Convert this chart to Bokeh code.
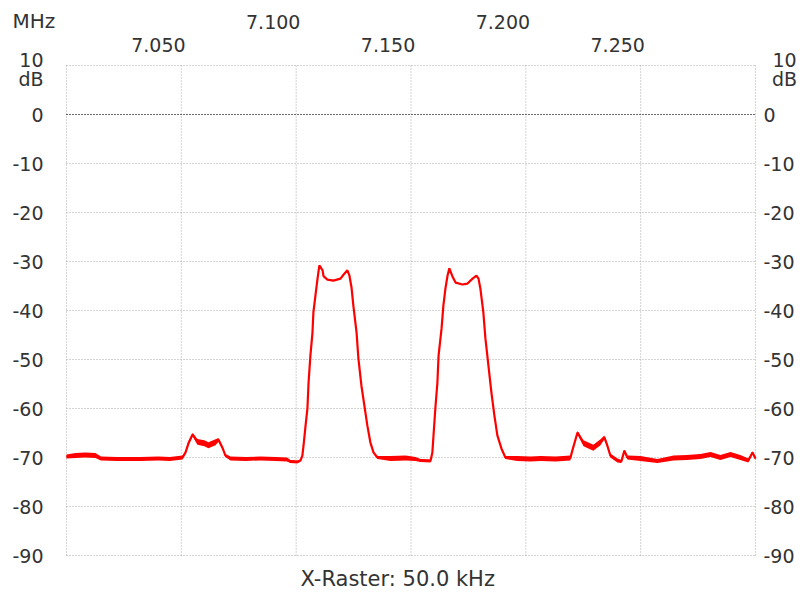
from bokeh.plotting import figure
from bokeh.models import Range1d
from bokeh.core.properties import value
from bokeh.embed import file_html
from bokeh.resources import INLINE

# ---- data ----
freq_mhz = [
    7.0100, 7.0139, 7.0180, 7.0226, 7.0250, 7.0320, 7.0422, 7.0500, 7.0550, 7.0605,
    7.0618, 7.0631, 7.0649, 7.0670, 7.0700, 7.0718, 7.0749, 7.0762, 7.0779, 7.0792, 7.0814,
    7.0880, 7.0945, 7.1010, 7.1060, 7.1075, 7.1105, 7.1119,
    7.1127, 7.1132, 7.1140, 7.1149, 7.1154, 7.1162, 7.1171, 7.1175, 7.1184, 7.1193,
    7.1201, 7.1215, 7.1219, 7.1236, 7.1262, 7.1293, 7.1306, 7.1323, 7.1332, 7.1341,
    7.1349, 7.1363, 7.1371, 7.1384, 7.1397, 7.1410, 7.1423, 7.1437, 7.1454,
    7.1511, 7.1576, 7.1620, 7.1641, 7.1685,
    7.1693, 7.1698, 7.1706, 7.1715, 7.1720, 7.1733, 7.1741, 7.1750, 7.1759, 7.1767,
    7.1780, 7.1794, 7.1824, 7.1846, 7.1868, 7.1885, 7.1894, 7.1902, 7.1915, 7.1924,
    7.1937, 7.1950, 7.1963, 7.1976, 7.1994, 7.2011,
    7.2063, 7.2120, 7.2164, 7.2230, 7.2294,
    7.2303, 7.2325, 7.2351, 7.2394, 7.2425, 7.2442, 7.2455, 7.2468, 7.2499, 7.2516, 7.2529, 7.2542,
    7.2599, 7.2673, 7.2743, 7.2800, 7.2860, 7.2904, 7.2947, 7.2991, 7.3034, 7.3069, 7.3087, 7.3100,
]
level_db = [
    -69.8, -69.6, -69.5, -69.6, -70.2, -70.3, -70.3, -70.2, -70.3, -70.0,
    -69.0, -67.1, -65.3, -66.8, -67.1, -67.5, -66.9, -66.4, -68.0, -69.6, -70.2,
    -70.3, -70.2, -70.3, -70.4, -70.8, -70.9, -70.6,
    -69.6, -67.6, -63.9, -60.0, -54.7, -49.2, -44.5, -40.4, -36.9, -33.5,
    -30.8, -31.8, -33.0, -33.7, -33.9, -33.5, -32.7, -31.8, -32.9, -35.3,
    -39.0, -44.5, -49.8, -55.3, -59.4, -63.5, -66.9, -69.0, -70.0,
    -70.2, -70.1, -70.3, -70.6, -70.7,
    -69.0, -65.5, -60.0, -54.7, -49.2, -43.7, -39.0, -35.5, -32.9, -31.4,
    -33.0, -34.3, -34.7, -34.5, -33.5, -32.9, -33.5, -35.5, -40.4, -45.7,
    -51.2, -56.7, -61.4, -65.5, -68.2, -70.0,
    -70.2, -70.3, -70.2, -70.3, -70.1,
    -68.5, -64.9, -67.1, -68.0, -66.9, -65.9, -67.6, -69.6, -70.6, -70.8, -68.6, -70.0,
    -70.2, -70.7, -70.1, -70.0, -69.8, -69.4, -70.0, -69.4, -70.0, -70.6, -69.0, -70.2,
]
spread_db = [
    0.4, 0.5, 0.5, 0.5, 0.4, 0.4, 0.4, 0.4, 0.4, 0.4,
    0.3, 0.4, 0.3, 0.6, 0.6, 0.6, 0.6, 0.4, 0.3, 0.3, 0.4,
    0.4, 0.4, 0.4, 0.4, 0.3, 0.3, 0.2,
    0.1, 0.1, 0.1, 0.1, 0.1, 0.1, 0.1, 0.1, 0.1, 0.1,
    0.1, 0.1, 0.1, 0.1, 0.1, 0.1, 0.1, 0.1, 0.1, 0.1,
    0.1, 0.1, 0.1, 0.1, 0.1, 0.1, 0.1, 0.2, 0.3,
    0.5, 0.5, 0.4, 0.3, 0.3,
    0.1, 0.1, 0.1, 0.1, 0.1, 0.1, 0.1, 0.1, 0.1, 0.1,
    0.1, 0.1, 0.1, 0.1, 0.1, 0.1, 0.1, 0.1, 0.1, 0.1,
    0.1, 0.1, 0.1, 0.1, 0.2, 0.3,
    0.5, 0.5, 0.5, 0.5, 0.5,
    0.3, 0.3, 0.6, 0.6, 0.6, 0.4, 0.4, 0.4, 0.4, 0.3, 0.2, 0.4,
    0.5, 0.4, 0.5, 0.5, 0.5, 0.5, 0.5, 0.5, 0.5, 0.4, 0.3, 0.3,
]

freq_start, freq_end = 7.010, 7.310          # span of the chart area (MHz)
db_top, db_bottom = 10, -90                   # span of the chart area (dB)
grid_freqs = [7.010, 7.060, 7.110, 7.160, 7.210, 7.260, 7.310]
upper_tick_freqs = [7.100, 7.200]
upper_tick_labels = ["7.100", "7.200"]
lower_tick_freqs = [7.050, 7.150, 7.250]
lower_tick_labels = ["7.050", "7.150", "7.250"]
db_ticks = [10, 0, -10, -20, -30, -40, -50, -60, -70, -80, -90]
db_labels = ["10\ndB", "0", "-10", "-20", "-30", "-40", "-50", "-60", "-70", "-80", "-90"]
unit_label = "MHz"
raster_label = "X-Raster: 50.0 kHz"

FONT = value("DejaVu Sans")
FSIZE = value("19px")
TCOL = "#333333"
GRID = "#a8a8a8"

# canvas geometry: chart area occupies pixels 66..755 (x) and 65..555 (y)
W, H = 802, 596
AX0, AX1, AY0, AY1 = 66, 755, 65, 555
mhz_per_px = (freq_end - freq_start) / (AX1 - AX0)
db_per_px = (db_top - db_bottom) / (AY1 - AY0)
x_range = Range1d(freq_start - AX0 * mhz_per_px, freq_end + (W - AX1) * mhz_per_px)
y_range = Range1d(db_bottom - (H - AY1) * db_per_px, db_top + AY0 * db_per_px)

p = figure(width=W, height=H, x_range=x_range, y_range=y_range,
           x_axis_location=None, y_axis_location=None,
           output_backend="svg", toolbar_location=None, min_border=0,
           background_fill_color="white", border_fill_color="white")
p.outline_line_color = None
p.xgrid.visible = False
p.ygrid.visible = False

# dotted raster
n_v = len(grid_freqs)
p.segment(x0=grid_freqs, y0=[db_bottom] * n_v, x1=grid_freqs, y1=[db_top] * n_v,
          line_color=GRID, line_dash="1 2", line_width=1)
n_h = len(db_ticks)
p.segment(x0=[freq_start] * n_h, y0=db_ticks, x1=[freq_end] * n_h, y1=db_ticks,
          line_color=GRID, line_dash="1 2", line_width=1)
p.segment(x0=[freq_start], y0=[0], x1=[freq_end], y1=[0],
          line_color="#000000", line_dash="1 2", line_width=1)

# spectrum trace
lo = [l - s for l, s in zip(level_db, spread_db)]
hi = [l + s for l, s in zip(level_db, spread_db)]
p.varea(x=freq_mhz, y1=lo, y2=hi, fill_color="#ff0000")
p.line(freq_mhz, level_db, line_color="#ff0000", line_width=2.2)

# dB tick labels, both sides (the two-line top label sits slightly lower)
label_dy = [4 if "\n" in t else 0 for t in db_labels]
right_align = ["center" if "\n" in t else "left" for t in db_labels]
right_dx = [29 if "\n" in t else 8 for t in db_labels]
p.text(x=[freq_start] * n_h, y=db_ticks, text=db_labels, x_offset=-23, y_offset=label_dy,
       text_align="right", text_baseline="middle", text_line_height=0.85,
       text_font=FONT, text_font_size=FSIZE, text_color=TCOL)
p.text(x=[freq_end] * n_h, y=db_ticks, text=db_labels, x_offset=right_dx, y_offset=label_dy,
       text_align=right_align, text_baseline="middle", text_line_height=0.85,
       text_font=FONT, text_font_size=FSIZE, text_color=TCOL)

# frequency tick labels, two staggered rows above the chart
p.text(x=lower_tick_freqs, y=[db_top] * len(lower_tick_freqs), text=lower_tick_labels,
       y_offset=-21, text_align="center", text_baseline="middle",
       text_font=FONT, text_font_size=FSIZE, text_color=TCOL)
p.text(x=upper_tick_freqs, y=[db_top] * len(upper_tick_freqs), text=upper_tick_labels,
       y_offset=-44, text_align="center", text_baseline="middle",
       text_font=FONT, text_font_size=FSIZE, text_color=TCOL)

# unit and raster captions
p.text(x=[freq_start], y=[db_top], text=[unit_label], x_offset=-54, y_offset=-45,
       text_align="left", text_baseline="middle",
       text_font=FONT, text_font_size=value("20px"), text_color=TCOL)
p.text(x=[freq_start], y=[db_bottom], text=[raster_label], x_offset=234, y_offset=23,
       text_align="left", text_baseline="middle",
       text_font=FONT, text_font_size=value("21px"), text_color=TCOL)

open("out.html", "w").write(file_html(p, INLINE))
